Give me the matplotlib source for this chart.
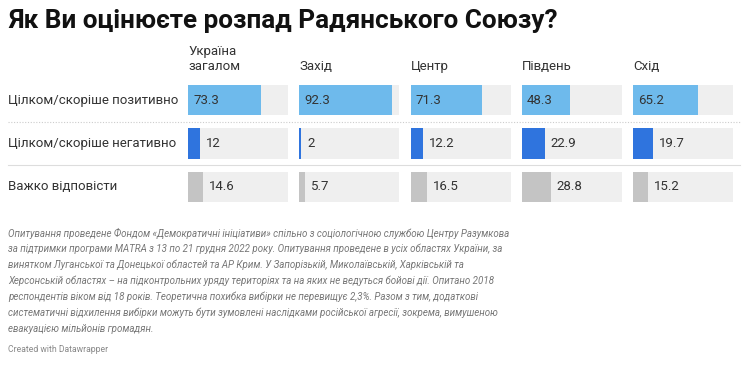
import matplotlib.pyplot as plt
from matplotlib.transforms import blended_transform_factory

# ---------------- DATA ----------------
title = "Як Ви оцінюєте розпад Радянського Союзу?"
regions = ["Україна\nзагалом", "Захід", "Центр", "Південь", "Схід"]
answers = ["Цілком/скоріше позитивно", "Цілком/скоріше негативно", "Важко відповісти"]

positive = [73.3, 92.3, 71.3, 48.3, 65.2]
negative = [12, 2, 12.2, 22.9, 19.7]
unsure = [14.6, 5.7, 16.5, 28.8, 15.2]

note_lines = [
    "Опитування проведене Фондом «Демократичні ініціативи» спільно з соціологічною службою Центру Разумкова",
    "за підтримки програми MATRA з 13 по 21 грудня 2022 року. Опитування проведене в усіх областях України, за",
    "винятком Луганської та Донецької областей та АР Крим. У Запорізькій, Миколаївській, Харківській та",
    "Херсонській областях – на підконтрольних уряду територіях та на яких не ведуться бойові дії. Опитано 2018",
    "респондентів віком від 18 років. Теоретична похибка вибірки не перевищує 2,3%. Разом з тим, додаткові",
    "систематичні відхилення вибірки можуть бути зумовлені наслідками російської агресії, зокрема, вимушеною",
    "евакуацією мільйонів громадян.",
]
credit = "Created with Datawrapper"

colors = ["#6ebaec", "#2f74de", "#c4c4c4"]
bg_color = "#efefef"
text_color = "#333333"

plt.rcParams["font.family"] = ["Roboto", "DejaVu Sans"]

W, H = 750, 368
fig = plt.figure(figsize=(W / 100, H / 100), dpi=100)

# ---------------- TITLE ----------------
fig.text(8 / W, 1 - 21 / H, title, fontsize=18.8, fontweight="bold",
         color="#111111", va="center", ha="left")

# ---------------- PANELS ----------------
col_left = 188
col_step = 111.3
col_width = 100
row_pitch = 43.3
top = 85 - 0.15 * row_pitch
ax_h = 3 * row_pitch

series = [positive, negative, unsure]
axes = []
for i, region in enumerate(regions):
    left = col_left + i * col_step
    ax = fig.add_axes([left / W, 1 - (top + ax_h) / H, col_width / W, ax_h / H])
    ax.set_xlim(0, 100)
    ax.set_ylim(2.5, -0.5)
    ax.axis("off")

    for r in range(3):
        v = series[r][i]
        ax.barh(r, 100, height=0.7, color=bg_color)
        ax.barh(r, v, height=0.7, color=colors[r])
        if r == 0:
            ax.text(5, r, f"{v:g}", va="center", ha="left",
                    fontsize=9.5, color=text_color)
        else:
            ax.text(v + 6, r, f"{v:g}", va="center", ha="left",
                    fontsize=9.5, color=text_color)

    ax.text(0, -0.5 - 6 / row_pitch, region, va="bottom", ha="left",
            fontsize=9.5, color=text_color, linespacing=1.2)
    axes.append(ax)

# ---------------- ROW LABELS + SEPARATORS ----------------
tr = blended_transform_factory(fig.transFigure, axes[0].transData)
for r, label in enumerate(answers):
    fig.text(8 / W, r, label, transform=tr, va="center", ha="left",
             fontsize=9.5, color=text_color)

axes[0].plot([8 / W, 740 / W], [0.5, 0.5], transform=tr, color="#cccccc",
             linestyle=(0, (1, 1.5)), linewidth=0.8, clip_on=False)
axes[0].plot([8 / W, 740 / W], [1.5, 1.5], transform=tr, color="#dddddd",
             linewidth=0.8, clip_on=False)

# ---------------- NOTES ----------------
for k, line in enumerate(note_lines):
    fig.text(8 / W, 1 - (233 + 16 * k) / H, line, fontsize=7.05,
             style="italic", color="#777777", va="center", ha="left")
fig.text(8 / W, 1 - 350 / H, credit, fontsize=6.2, color="#888888",
         va="center", ha="left")

fig.savefig("out.png", dpi=100)
